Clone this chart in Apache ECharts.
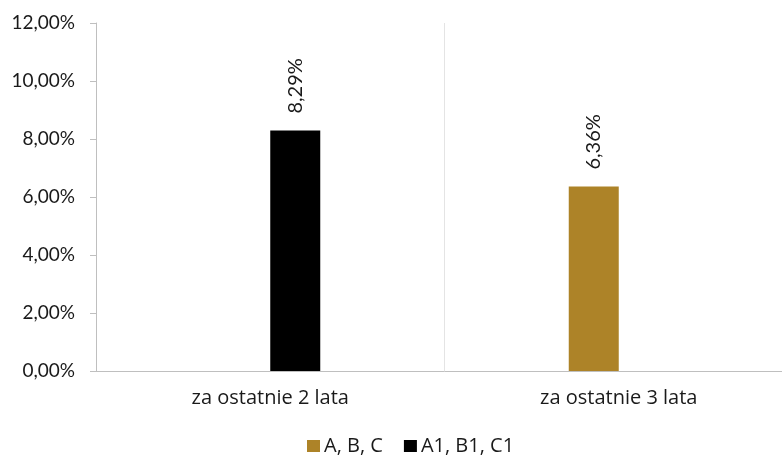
<!DOCTYPE html>
<html>
<head>
<meta charset="utf-8">
<script src="https://cdn.jsdelivr.net/npm/echarts@6/dist/echarts.min.js"></script>
<style>html,body{margin:0;padding:0;background:#fff;overflow:hidden;width:782px;height:455px;}#c{width:793px;height:455px;}</style>
</head>
<body>
<div id="c"></div>
<script>
var categories = ['za ostatnie 2 lata', 'za ostatnie 3 lata'];
var seriesNames = ['A, B, C', 'A1, B1, C1'];
var valuesABC = [null, 6.36];
var valuesA1B1C1 = [8.29, null];
var yTicks = [0, 2, 4, 6, 8, 10, 12];

function fmt(v) { return Number(v).toFixed(2).replace('.', ',') + '%'; }

var chart = echarts.init(document.getElementById('c'));
var FONT_NUM = 'Lato';
var FONT_TXT = 'Open Sans';
var labelCfg = {
  show: true, position: 'top', rotate: 90, align: 'left', verticalAlign: 'middle',
  distance: 17, color: '#1a1a1a', fontFamily: FONT_NUM, fontSize: 20,
  formatter: function (p) { return fmt(p.value); }
};
chart.setOption({
  animation: false,
  grid: { left: 96, right: 0, top: 23, bottom: 84, containLabel: false },
  legend: {
    top: 431, left: 302, itemWidth: 13, itemHeight: 12, itemGap: 21,
    icon: 'rect',
    textStyle: { fontFamily: FONT_TXT, fontSize: 20, color: '#1a1a1a', padding: [0, 0, 0, -1] },
    data: seriesNames
  },
  xAxis: {
    type: 'category', data: categories,
    axisLine: { lineStyle: { color: '#bfbfbf', width: 1 } },
    axisTick: { show: false },
    splitLine: { show: true, lineStyle: { color: '#e4e4e4', width: 1 } },
    axisLabel: { color: '#1a1a1a', fontFamily: FONT_TXT, fontSize: 20, margin: 17 }
  },
  yAxis: {
    type: 'value', min: yTicks[0], max: yTicks[yTicks.length - 1], interval: yTicks[1] - yTicks[0],
    axisLine: { show: true, lineStyle: { color: '#bfbfbf', width: 1 } },
    axisTick: { show: true, length: 6, lineStyle: { color: '#bfbfbf' } },
    splitLine: { show: false },
    axisLabel: { color: '#1a1a1a', fontFamily: FONT_NUM, fontSize: 19, margin: 21, formatter: fmt }
  },
  series: [
    { name: seriesNames[0], type: 'bar', data: valuesABC, barWidth: 50, barGap: '0%',
      itemStyle: { color: '#ad8328' }, label: labelCfg },
    { name: seriesNames[1], type: 'bar', data: valuesA1B1C1, barWidth: 50, barGap: '0%',
      itemStyle: { color: '#000000' }, label: labelCfg }
  ]
});
</script>
</body>
</html>
